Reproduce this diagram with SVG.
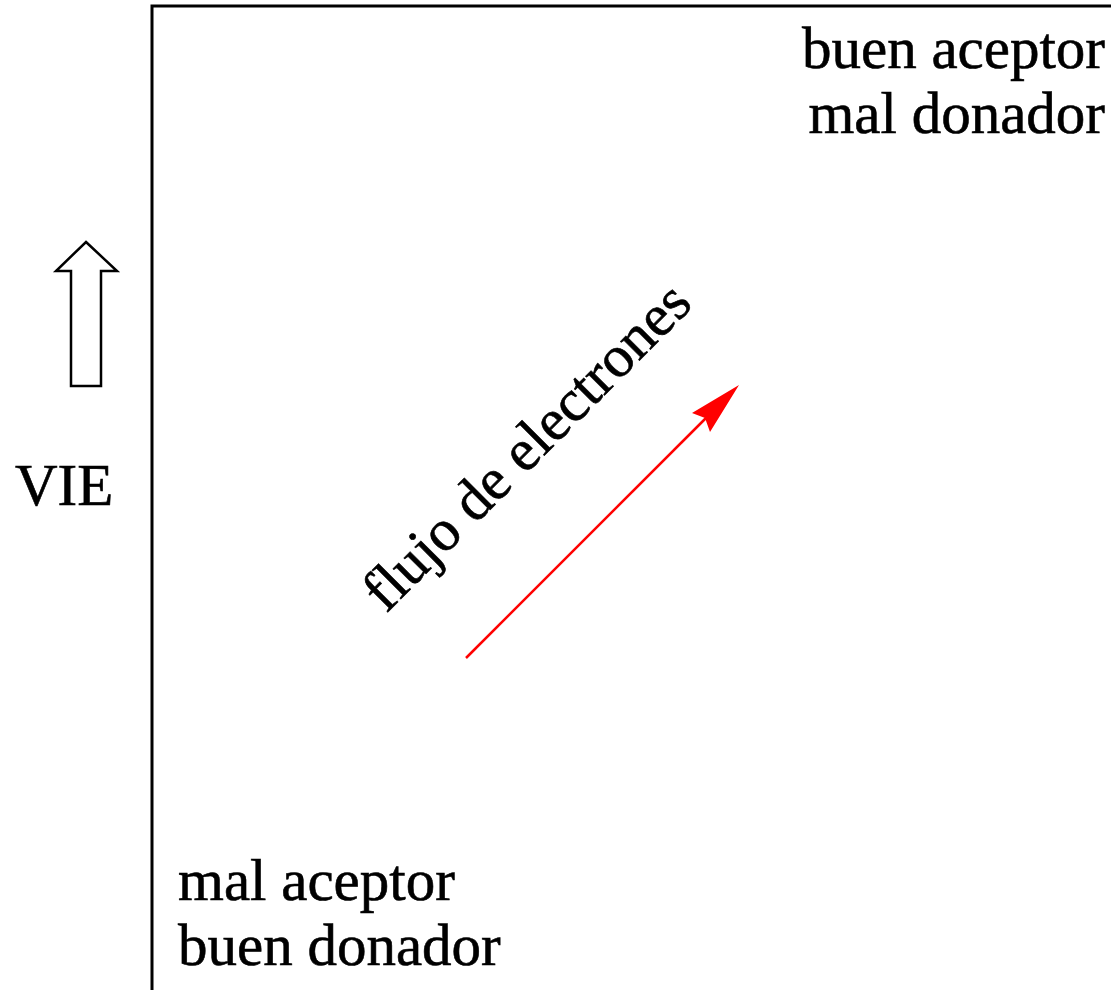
<svg xmlns="http://www.w3.org/2000/svg" width="1111" height="990" viewBox="0 0 1111 990">
  <style>
    .lbl { font-family: "Liberation Serif", "Times New Roman", serif; font-size: 59px; fill: #000; stroke: #000; stroke-width: 0.6; }
    .frame { fill: none; stroke: #000; stroke-width: 3; }
  </style>
  <rect width="1111" height="990" fill="#fff"/>

  <!-- plot frame: left and top axes -->
  <g id="frame">
    <path class="frame" d="M152,990 L152,6 L1111,6"/>
  </g>

  <!-- corner labels -->
  <g id="top-right">
    <text class="lbl" x="1105" y="68" text-anchor="end">buen aceptor</text>
    <text class="lbl" x="1105" y="133" text-anchor="end">mal donador</text>
  </g>
  <g id="bottom-left">
    <text class="lbl" x="178" y="900">mal aceptor</text>
    <text class="lbl" x="178" y="965">buen donador</text>
  </g>

  <!-- vertical axis: hollow arrow and VIE label -->
  <g id="vie-arrow">
    <path d="M86,242 L117,271 L101,271 L101,386 L71,386 L71,271 L56,271 Z" fill="#fff" stroke="#000" stroke-width="2.5"/>
  </g>
  <g id="vie-label">
    <text class="lbl" x="15" y="505">VIE</text>
  </g>

  <!-- electron flow -->
  <g id="connectors">
    <line x1="466" y1="658" x2="712" y2="412" stroke="#ff0000" stroke-width="2.5"/>
    <path d="M739,385 L710,432 L705,418 L692,413 Z" fill="#ff0000"/>
  </g>
  <g id="flow-label">
    <text class="lbl" transform="translate(386,614) rotate(-45)">flujo de electrones</text>
  </g>
</svg>
